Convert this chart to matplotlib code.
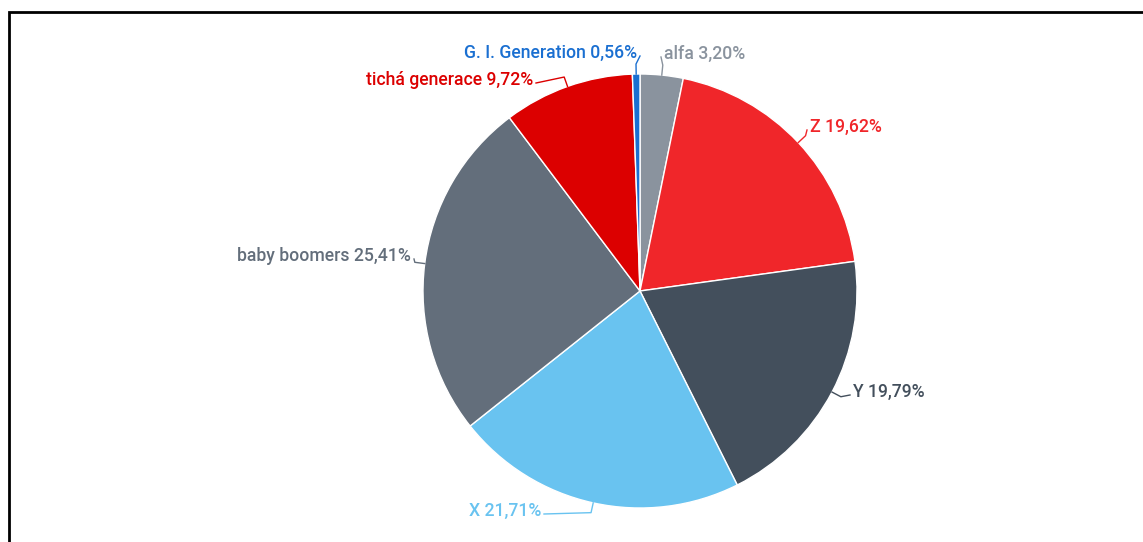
import numpy as np
import matplotlib
matplotlib.use('Agg')
import matplotlib.pyplot as plt
from matplotlib.patches import Rectangle

# data, clockwise from the top
generations = ['alfa', 'Z', 'Y', 'X', 'baby boomers', 'tichá generace', 'G. I. Generation']
shares = [3.20, 19.62, 19.79, 21.71, 25.41, 9.72, 0.56]
colors = ['#8a939e', '#f0262a', '#434f5c', '#69c3f0', '#636e7b', '#dc0000', '#1a6fd1']

# label text anchors in pixels (x, y from top, alignment)
label_pos = [(664, 54, 'left'), (810, 127, 'left'), (853, 392, 'left'),
             (541, 511, 'right'), (411, 256, 'right'), (533, 80, 'right'),
             (637, 53, 'right')]

W, H = 1143, 542
cx, cy, R = 640, 291, 217

fig = plt.figure(figsize=(W / 100, H / 100), dpi=100)
ax = fig.add_axes([0, 0, 1, 1])
ax.set_xlim(0, W)
ax.set_ylim(0, H)
ax.set_aspect('equal')
ax.axis('off')

wedges, _ = ax.pie(shares, colors=colors, startangle=90, counterclock=False,
                   center=(cx, H - cy), radius=R,
                   wedgeprops=dict(edgecolor='white', linewidth=1))
ax.set_xlim(0, W)
ax.set_ylim(0, H)

for w, name, val, col, (tx, ty, ha) in zip(wedges, generations, shares, colors, label_pos):
    mid = np.deg2rad((w.theta1 + w.theta2) / 2)
    x0, y0 = cx + R * np.cos(mid), (H - cy) + R * np.sin(mid)
    x1, y1 = cx + (R + 10) * np.cos(mid), (H - cy) + (R + 10) * np.sin(mid)
    gap = 3 if ha == 'left' else -3
    ax.plot([x0, x1, tx - gap], [y0, y1, H - ty - 3], color=col, lw=1)
    pct = f'{val:.2f}%'.replace('.', ',')
    ax.text(tx, H - ty, f'{name} {pct}', ha=ha, va='center', color=col,
            fontsize=12.7, family='Roboto', fontweight='medium')

# frame around the chart
fig.patches.append(Rectangle((9 / W, -0.1), 1.2, (H - 12) / H + 0.1,
                             transform=fig.transFigure, fill=False,
                             edgecolor='black', lw=2))

fig.savefig('out.png', dpi=100)
